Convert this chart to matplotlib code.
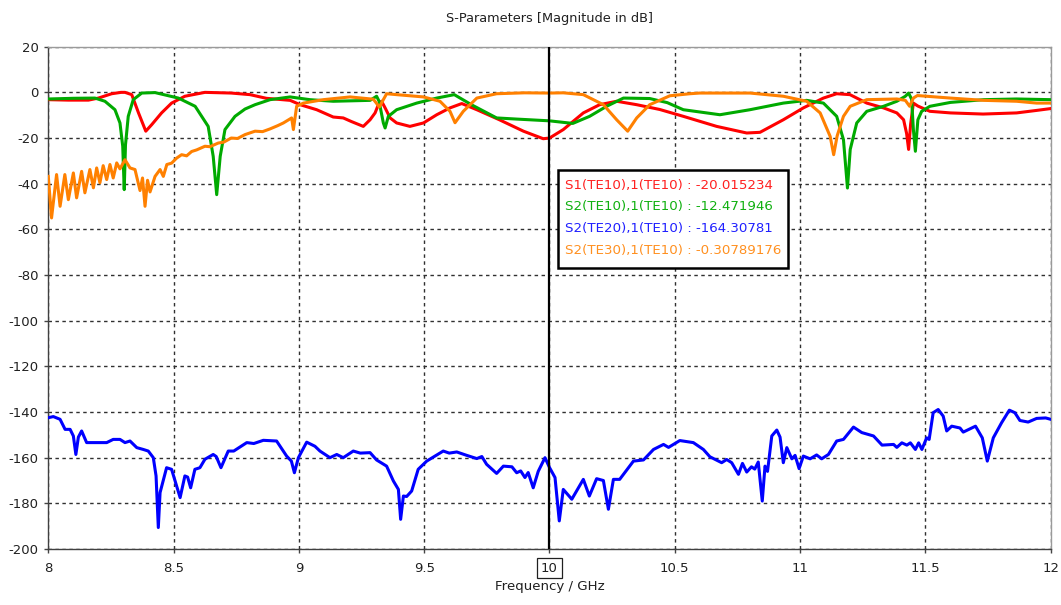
import numpy as np
import matplotlib
matplotlib.use("Agg")
import matplotlib.pyplot as plt
from matplotlib.patches import Rectangle

# ---------------- data (frequency in GHz, magnitude in dB) ----------------
marker_f = 10.0

s11_f = [8.000, 8.080, 8.160, 8.200, 8.253, 8.290, 8.306, 8.333, 8.360, 8.389,
         8.413, 8.452, 8.492, 8.545, 8.625, 8.730, 8.805, 8.870, 8.965, 9.005,
         9.071, 9.137, 9.177, 9.210, 9.257, 9.284, 9.304, 9.317, 9.330, 9.345,
         9.364, 9.390, 9.443, 9.497, 9.550, 9.603, 9.650, 9.710, 9.800, 9.896,
         9.975, 10.000, 10.055, 10.135, 10.200, 10.268, 10.348, 10.440, 10.534,
         10.667, 10.787, 10.840, 10.933, 11.013, 11.093, 11.146, 11.199, 11.266,
         11.333, 11.386, 11.413, 11.425, 11.433, 11.441, 11.452, 11.470, 11.518,
         11.600, 11.730, 11.864, 11.944, 12.000]
s11_db = [-3.2, -3.4, -3.4, -2.5, -0.6, 0.0, 0.0, -1.0, -9.0, -17.0,
          -14.1, -9.0, -4.7, -1.7, 0.0, -0.3, -1.0, -2.6, -3.5, -5.4,
          -7.6, -10.8, -11.2, -12.8, -14.9, -12.0, -9.0, -5.4, -3.9, -7.0,
          -11.2, -13.4, -14.9, -13.4, -9.8, -6.8, -4.9, -7.6, -12.0, -17.0,
          -20.3, -20.015234, -16.3, -9.0, -5.4, -3.9, -5.4, -7.5, -10.5,
          -14.9, -17.8, -17.5, -12.0, -6.8, -2.5, -0.6, -1.0, -4.7,
          -6.8, -9.0, -12.0, -18.0, -25.0, -14.0, -4.7, -6.0, -8.3,
          -9.0, -9.5, -9.0, -7.9, -7.1]

s21_f = [8.000, 8.100, 8.186, 8.226, 8.266, 8.286, 8.297, 8.303, 8.308, 8.319,
         8.339, 8.373, 8.426, 8.519, 8.586, 8.638, 8.658, 8.672, 8.686, 8.705,
         8.745, 8.785, 8.825, 8.885, 8.965, 9.044, 9.137, 9.284, 9.310, 9.320,
         9.337, 9.344, 9.357, 9.390, 9.470, 9.550, 9.620, 9.690, 9.789, 9.869,
         10.000, 10.093, 10.160, 10.228, 10.295, 10.400, 10.470, 10.534, 10.680,
         10.800, 10.933, 11.026, 11.093, 11.146, 11.173, 11.189, 11.200, 11.226,
         11.266, 11.333, 11.386, 11.420, 11.433, 11.445, 11.452, 11.460, 11.470,
         11.485, 11.518, 11.600, 11.733, 11.864, 12.000]
s21_db = [-2.9, -2.6, -2.5, -3.9, -7.6, -13.4, -23.6, -42.6, -23.0, -10.5,
          -3.2, -0.3, -0.1, -2.5, -6.1, -14.9, -28.0, -44.8, -28.0, -16.3,
          -10.5, -7.3, -5.4, -3.2, -2.0, -3.2, -3.9, -3.5, -1.7, -3.9,
          -13.4, -15.6, -10.5, -7.6, -4.7, -2.5, -1.0, -5.5, -11.2, -11.7,
          -12.471946, -13.6, -10.5, -6.1, -2.5, -2.7, -4.5, -7.6, -9.8,
          -7.6, -4.7, -3.5, -4.7, -10.5, -20.7, -41.9, -25.0, -13.4,
          -8.3, -6.1, -3.9, -1.7, -0.3, -3.0, -16.3, -25.8, -12.0,
          -8.3, -6.1, -4.4, -3.2, -2.9, -3.2]

s2te20_f = [8.000, 8.020, 8.047, 8.067, 8.087, 8.100, 8.110, 8.120, 8.133, 8.153,
            8.233, 8.259, 8.286, 8.306, 8.326, 8.353, 8.379, 8.399, 8.419, 8.430,
            8.439, 8.446, 8.472, 8.492, 8.526, 8.545, 8.556, 8.568, 8.585, 8.605,
            8.625, 8.658, 8.670, 8.689, 8.718, 8.740, 8.792, 8.820, 8.858, 8.911,
            8.951, 8.970, 8.982, 8.998, 9.031, 9.064, 9.084, 9.124, 9.151, 9.177,
            9.217, 9.245, 9.284, 9.310, 9.350, 9.377, 9.397, 9.406, 9.417, 9.430,
            9.450, 9.476, 9.510, 9.576, 9.600, 9.630, 9.670, 9.710, 9.730, 9.749,
            9.789, 9.816, 9.850, 9.869, 9.885, 9.902, 9.915, 9.935, 9.955, 9.982,
            10.000, 10.022, 10.039, 10.055, 10.089, 10.135, 10.159, 10.188, 10.215,
            10.235, 10.255, 10.280, 10.335, 10.375, 10.415, 10.455, 10.475, 10.520,
            10.574, 10.614, 10.640, 10.687, 10.707, 10.727, 10.754, 10.770, 10.787,
            10.806, 10.819, 10.833, 10.849, 10.860, 10.870, 10.887, 10.907, 10.920,
            10.933, 10.947, 10.967, 10.980, 10.996, 11.013, 11.040, 11.066, 11.086,
            11.113, 11.146, 11.173, 11.213, 11.246, 11.293, 11.327, 11.373, 11.386,
            11.406, 11.426, 11.440, 11.460, 11.473, 11.486, 11.505, 11.515, 11.531,
            11.551, 11.571, 11.585, 11.605, 11.638, 11.651, 11.700, 11.727, 11.747,
            11.771, 11.804, 11.835, 11.857, 11.877, 11.910, 11.944, 11.980, 12.000]
s2te20_db = [-142.5, -142.0, -143.2, -147.6, -147.6, -150.5, -158.6, -151.0, -148.3, -153.4,
             -153.4, -152.0, -152.0, -153.4, -152.7, -155.6, -156.4, -157.1, -160.0, -168.0,
             -190.6, -175.3, -164.4, -165.1, -177.5, -168.0, -168.5, -173.2, -165.1, -164.4,
             -160.7, -158.6, -159.5, -164.4, -157.1, -157.1, -153.4, -153.8, -152.4, -152.7,
             -159.3, -161.5, -166.6, -160.0, -153.2, -155.0, -157.1, -160.0, -158.6, -160.0,
             -157.1, -158.0, -157.8, -161.0, -163.7, -170.2, -173.9, -187.0, -176.8, -177.0,
             -174.6, -165.1, -161.5, -157.1, -158.0, -157.5, -159.0, -160.4, -159.5, -162.9,
             -166.9, -163.7, -164.0, -166.6, -165.8, -168.7, -166.5, -173.2, -166.0, -160.0,
             -164.30781, -168.7, -187.7, -173.9, -178.2, -169.5, -176.8, -169.2, -170.0,
             -182.6, -169.5, -169.5, -161.5, -161.0, -156.4, -154.2, -155.5, -152.5,
             -153.4, -156.4, -159.6, -162.2, -160.8, -162.2, -167.3, -162.5, -166.3,
             -164.0, -165.0, -161.9, -179.0, -163.7, -166.0, -150.5, -147.9, -151.0,
             -162.2, -155.6, -160.5, -159.0, -164.8, -159.3, -160.5, -158.8, -160.5,
             -158.6, -152.7, -152.0, -146.6, -149.0, -150.5, -154.5, -154.2, -155.5,
             -153.5, -154.5, -153.5, -156.4, -153.5, -156.4, -151.3, -152.0, -140.3,
             -138.9, -141.8, -148.3, -146.2, -147.0, -148.8, -146.2, -151.3, -161.5,
             -151.3, -144.7, -139.2, -140.3, -143.7, -144.4, -142.8, -142.6, -143.2]

s2te30_f = [8.000, 8.013, 8.033, 8.047, 8.066, 8.080, 8.100, 8.113, 8.133, 8.146,
            8.166, 8.180, 8.193, 8.206, 8.219, 8.233, 8.246, 8.259, 8.273, 8.286,
            8.306, 8.326, 8.346, 8.366, 8.376, 8.386, 8.396, 8.406, 8.426, 8.446,
            8.459, 8.473, 8.492, 8.512, 8.532, 8.552, 8.572, 8.592, 8.625, 8.645,
            8.678, 8.700, 8.730, 8.755, 8.785, 8.825, 8.855, 8.885, 8.915, 8.938,
            8.971, 8.978, 8.991, 9.018, 9.097, 9.204, 9.297, 9.321, 9.350, 9.390,
            9.497, 9.563, 9.603, 9.623, 9.656, 9.710, 9.789, 9.900, 10.000, 10.055,
            10.135, 10.215, 10.268, 10.312, 10.348, 10.400, 10.480, 10.560, 10.600,
            10.800, 10.933, 11.026, 11.080, 11.120, 11.134, 11.148, 11.173, 11.200,
            11.266, 11.386, 11.420, 11.437, 11.452, 11.468, 11.600, 11.733, 11.864,
            11.944, 12.000]
s2te30_db = [-36.8, -55.0, -36.0, -49.9, -36.0, -47.0, -35.3, -46.2, -34.6, -44.0,
             -33.8, -41.8, -33.1, -39.6, -32.1, -38.2, -31.6, -37.5, -30.9, -33.5,
             -29.5, -33.1, -33.8, -43.0, -37.5, -49.9, -38.5, -43.6, -36.8, -33.8,
             -36.8, -31.6, -31.0, -28.8, -27.3, -27.8, -25.9, -25.2, -23.6, -23.8,
             -22.2, -21.8, -20.0, -20.2, -18.5, -17.0, -17.2, -16.0, -14.6, -13.4,
             -11.2, -16.3, -6.1, -4.7, -3.2, -2.0, -3.0, -6.4, -0.6, -1.0,
             -2.0, -3.9, -8.3, -13.3, -8.3, -2.5, -0.6, -0.2, -0.30789176, -0.2,
             -1.0, -5.4, -12.0, -17.0, -11.2, -5.4, -1.5, -0.6, -0.3,
             -0.3, -1.7, -3.9, -9.0, -19.3, -27.3, -19.0, -10.5, -6.1,
             -3.2, -2.9, -3.5, -6.1, -2.5, -1.4, -2.5, -3.5, -3.9,
             -4.7, -4.7]

series = [
    ("S1(TE10),1(TE10)", s11_f, s11_db, "#ff0000", "#ff2020"),
    ("S2(TE10),1(TE10)", s21_f, s21_db, "#00aa00", "#10b010"),
    ("S2(TE20),1(TE10)", s2te20_f, s2te20_db, "#0000ff", "#2020ff"),
    ("S2(TE30),1(TE10)", s2te30_f, s2te30_db, "#ff8000", "#ff9020"),
]

x_ticks = [8, 8.5, 9, 9.5, 10, 10.5, 11, 11.5, 12]
x_tick_labels = ["8", "8.5", "9", "9.5", "10", "10.5", "11", "11.5", "12"]
y_ticks = list(range(-200, 21, 20))

# ---------------- figure ----------------
plt.rcParams["font.family"] = ["DejaVu Sans"]
plt.rcParams["axes.unicode_minus"] = False
W, H = 1061, 605
fig = plt.figure(figsize=(W / 100, H / 100), dpi=100)
ax = fig.add_axes([48.3 / W, 1 - 549 / H, (1050.7 - 48.3) / W, (549 - 46.7) / H])

for name, f, s, lc, tc in series:
    ax.plot(f, s, color=lc, lw=2.2, solid_joinstyle="round", zorder=3)

ax.set_xlim(8, 12)
ax.set_ylim(-200, 20)
ax.set_xticks(x_ticks)
ax.set_xticklabels(x_tick_labels)
ax.set_yticks(y_ticks)
ax.tick_params(axis="both", labelsize=9.5, length=3, width=1, color="#444444",
               labelcolor="#202020")
ax.tick_params(axis="x", pad=6)
ax.tick_params(axis="y", pad=4)

ax.grid(True, color="#303030", lw=1, linestyle=(0, (2.5, 2.5)), zorder=1)
ax.set_axisbelow(True)

for side in ("left", "bottom"):
    ax.spines[side].set_color("#404040")
    ax.spines[side].set_linewidth(1.0)
for side in ("top", "right"):
    ax.spines[side].set_color("#9a9a9a")
    ax.spines[side].set_linewidth(1.0)

# marker line
ax.axvline(marker_f, color="black", lw=1.6, zorder=4)

# boxed tick label at the marker frequency
for lbl, val in zip(ax.get_xticklabels(), x_ticks):
    if val == marker_f:
        lbl.set_bbox(dict(facecolor="white", edgecolor="#202020", lw=0.9,
                          boxstyle="square,pad=0.3"))

ax.set_title("S-Parameters [Magnitude in dB]", fontsize=9.3, color="#202020", pad=18)
ax.set_xlabel("Frequency / GHz", fontsize=9.6, color="#202020", labelpad=4)

# marker readout box
x0 = (558 - 48.3) / 1002.4
x1 = (788 - 48.3) / 1002.4
y1 = (549 - 170) / 502.3
y0 = (549 - 268) / 502.3
ax.add_patch(Rectangle((x0, y0), x1 - x0, y1 - y0, transform=ax.transAxes,
                       facecolor="white", edgecolor="black", lw=1.8, zorder=5))
line_y = [185, 206.5, 228.5, 250.5]
for (name, f, s, lc, tc), py in zip(series, line_y):
    val = np.interp(marker_f, f, s)
    ax.text((565 - 48.3) / 1002.4, (549 - py) / 502.3, f"{name} : {val:.8g}",
            transform=ax.transAxes, color=tc, fontsize=9.6, va="center", ha="left",
            zorder=6)

fig.savefig("out.png", dpi=100)
